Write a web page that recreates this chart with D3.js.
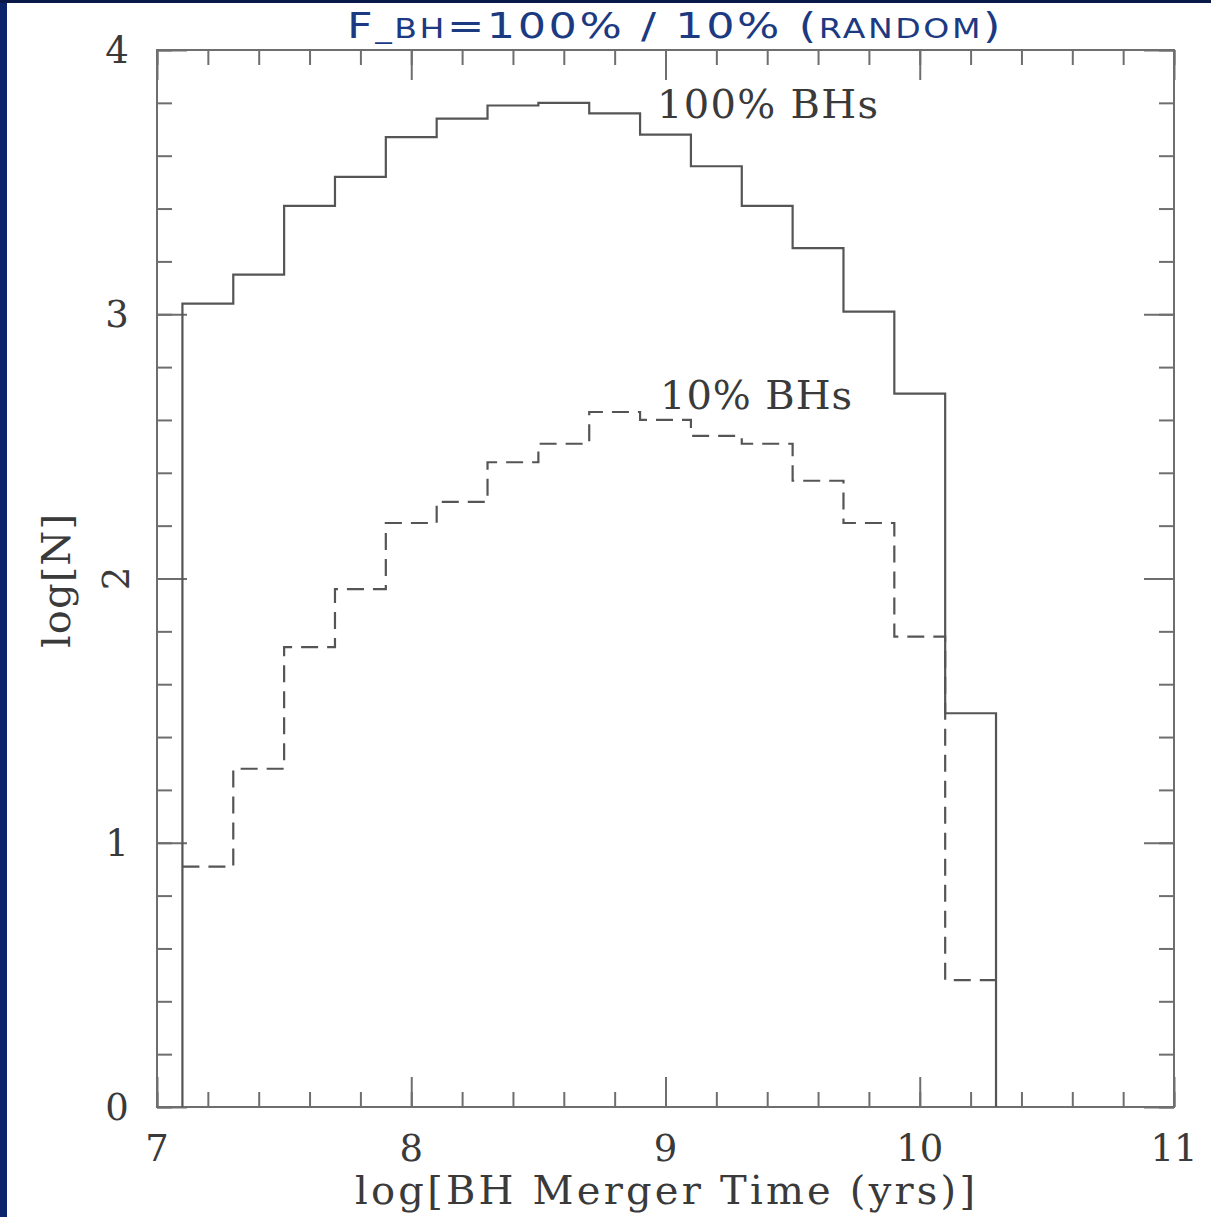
<!DOCTYPE html>
<html>
<head>
<meta charset="utf-8">
<script src="https://cdn.jsdelivr.net/npm/d3@7/dist/d3.min.js"></script>
<style>
  html, body { margin: 0; padding: 0; background: #ffffff; }
  svg { display: block; }
</style>
</head>
<body>
<script>
// ---------- data ----------
const binEdges = [7.1, 7.3, 7.5, 7.7, 7.9, 8.1, 8.3, 8.5, 8.7, 8.9, 9.1, 9.3, 9.5, 9.7, 9.9, 10.1, 10.3];
const logN100 = [3.04, 3.15, 3.41, 3.52, 3.67, 3.74, 3.79, 3.80, 3.76, 3.68, 3.56, 3.41, 3.25, 3.01, 2.70, 1.49];
const logN10  = [0.91, 1.28, 1.74, 1.96, 2.21, 2.29, 2.44, 2.51, 2.63, 2.60, 2.54, 2.51, 2.37, 2.21, 1.78, 0.48];
const xTickLabels = ["7", "8", "9", "10", "11"];
const yTickLabels = ["0", "1", "2", "3", "4"];
const seriesLabels = ["100% BHs", "10% BHs"];
const titleParts = [["F", "big"], ["_BH", "small"], ["=100% / 10% (", "big"], ["RANDOM", "small"], [")", "big"]];
const xLabel = "log[BH Merger Time (yrs)]";
const yLabel = "log[N]";

// ---------- layout ----------
const W = 1211, H = 1217;
const svg = d3.select("body").append("svg").attr("width", W).attr("height", H);

svg.append("rect").attr("x", 0).attr("y", 0).attr("width", W).attr("height", H).attr("fill", "#ffffff");
// dark navy frame edges from the slide
svg.append("rect").attr("x", 0).attr("y", 0).attr("width", 7).attr("height", H).attr("fill", "#0a246a");
svg.append("rect").attr("x", 0).attr("y", 0).attr("width", W).attr("height", 3).attr("fill", "#0a1a48");

const x = d3.scaleLinear().domain([7, 11]).range([157, 1174]);
const y = d3.scaleLinear().domain([0, 4]).range([1107, 50]);

const axisColor = "#6e6e6e";
const lineColor = "#555555";
const textColor = "#3a3a3a";
const serif = "'DejaVu Serif', 'Liberation Serif', serif";

// frame
svg.append("rect")
  .attr("x", x(7)).attr("y", y(4))
  .attr("width", x(11) - x(7)).attr("height", y(0) - y(4))
  .attr("fill", "none").attr("stroke", axisColor).attr("stroke-width", 2);

const xMinor = x.ticks(20);
const xMajor = x.ticks(4);
const yMinor = y.ticks(20);
const yMajor = y.ticks(4);

function styleAxis(g) {
  g.select(".domain").remove();
  g.selectAll(".tick line").attr("stroke", axisColor).attr("stroke-width", 2);
  g.selectAll(".tick text").remove();
}

// minor ticks (inward on all four sides)
svg.append("g").attr("transform", `translate(0,${y(0)})`)
  .call(d3.axisBottom(x).tickValues(xMinor).tickSize(-15)).call(styleAxis);
svg.append("g").attr("transform", `translate(0,${y(4)})`)
  .call(d3.axisTop(x).tickValues(xMinor).tickSize(-15)).call(styleAxis);
svg.append("g").attr("transform", `translate(${x(7)},0)`)
  .call(d3.axisLeft(y).tickValues(yMinor).tickSize(-15)).call(styleAxis);
svg.append("g").attr("transform", `translate(${x(11)},0)`)
  .call(d3.axisRight(y).tickValues(yMinor).tickSize(-15)).call(styleAxis);
// major ticks
svg.append("g").attr("transform", `translate(0,${y(0)})`)
  .call(d3.axisBottom(x).tickValues(xMajor).tickSize(-30)).call(styleAxis);
svg.append("g").attr("transform", `translate(0,${y(4)})`)
  .call(d3.axisTop(x).tickValues(xMajor).tickSize(-30)).call(styleAxis);
svg.append("g").attr("transform", `translate(${x(7)},0)`)
  .call(d3.axisLeft(y).tickValues(yMajor).tickSize(-30)).call(styleAxis);
svg.append("g").attr("transform", `translate(${x(11)},0)`)
  .call(d3.axisRight(y).tickValues(yMajor).tickSize(-30)).call(styleAxis);

// tick labels
svg.append("g").selectAll("text").data(xTickLabels).join("text")
  .attr("x", d => x(+d)).attr("y", 1161)
  .attr("text-anchor", "middle")
  .attr("font-family", serif).attr("font-size", 37).attr("fill", textColor)
  .text(d => d);

svg.append("g").selectAll("text").data(yTickLabels).join("text")
  .attr("transform", d => d === "2"
      ? `translate(129,${y(+d)}) rotate(-90)`
      : `translate(117,${y(+d) + 13})`)
  .attr("text-anchor", "middle")
  .attr("font-family", serif).attr("font-size", 37).attr("fill", textColor)
  .text(d => d);

// axis titles
svg.append("text")
  .attr("x", 665).attr("y", 1204)
  .attr("text-anchor", "middle")
  .attr("font-family", serif).attr("font-size", 40).attr("fill", textColor)
  .attr("textLength", 620).attr("lengthAdjust", "spacing")
  .text(xLabel);

svg.append("text")
  .attr("transform", "translate(70,581) rotate(-90)")
  .attr("text-anchor", "middle")
  .attr("font-family", serif).attr("font-size", 40).attr("fill", textColor)
  .attr("textLength", 134).attr("lengthAdjust", "spacing")
  .text(yLabel);

// histograms
function stepPoints(vals, closeBase) {
  const pts = [];
  if (closeBase) pts.push([binEdges[0], 0]);
  vals.forEach((v, i) => pts.push([binEdges[i], v]));
  pts.push([binEdges[binEdges.length - 1], vals[vals.length - 1]]);
  if (closeBase) pts.push([binEdges[binEdges.length - 1], 0]);
  return pts;
}
const line = d3.line().x(d => x(d[0])).y(d => y(d[1])).curve(d3.curveStepAfter);

svg.append("path")
  .attr("d", line(stepPoints(logN100, true)))
  .attr("fill", "none").attr("stroke", lineColor).attr("stroke-width", 2.2);

svg.append("path")
  .attr("d", line(stepPoints(logN10, false)))
  .attr("fill", "none").attr("stroke", lineColor).attr("stroke-width", 2.2)
  .attr("stroke-dasharray", "17,9");

// series labels
svg.append("text")
  .attr("x", 657).attr("y", 118)
  .attr("font-family", serif).attr("font-size", 40).attr("fill", textColor)
  .attr("textLength", 221).attr("lengthAdjust", "spacing")
  .text(seriesLabels[0]);
svg.append("text")
  .attr("x", 660).attr("y", 409)
  .attr("font-family", serif).attr("font-size", 40).attr("fill", textColor)
  .attr("textLength", 192).attr("lengthAdjust", "spacing")
  .text(seriesLabels[1]);

// title (small-caps style, wide letterforms)
const title = svg.append("text")
  .attr("x", 347).attr("y", 38)
  .attr("font-family", "'DejaVu Sans', 'Noto Sans', sans-serif")
  .attr("fill", "#1c3a82")
  .attr("letter-spacing", 2)
  .attr("textLength", 656).attr("lengthAdjust", "spacingAndGlyphs");
title.selectAll("tspan").data(titleParts).join("tspan")
  .attr("font-size", d => d[1] === "big" ? 35 : 26)
  .text(d => d[0]);
</script>
</body>
</html>
